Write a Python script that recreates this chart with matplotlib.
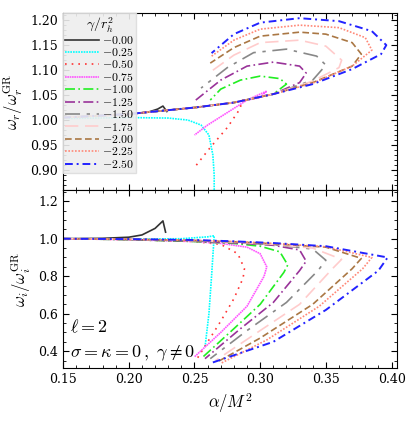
import matplotlib.pyplot as plt
from matplotlib.ticker import MultipleLocator

plt.rcParams['mathtext.fontset'] = 'cm'
plt.rcParams['font.family'] = 'serif'
plt.rcParams['font.serif'] = ['DejaVu Serif']

gammas = ['-0.00', '-0.25', '-0.50', '-0.75', '-1.00', '-1.25', '-1.50', '-1.75', '-2.00', '-2.25', '-2.50']

# real part: (alpha, omega_r / omega_r^GR)
real_a = [
    [0.15, 0.18, 0.20, 0.215, 0.222, 0.226, 0.229],
    [0.15, 0.20, 0.23, 0.245, 0.255, 0.261, 0.264, 0.265, 0.265],
    [0.15, 0.20, 0.25, 0.28, 0.287, 0.284, 0.275, 0.262, 0.25],
    [0.15, 0.20, 0.25, 0.28, 0.30, 0.305, 0.29, 0.275, 0.26, 0.25],
    [0.15, 0.20, 0.25, 0.28, 0.31, 0.32, 0.315, 0.30, 0.285, 0.27, 0.262],
    [0.15, 0.20, 0.25, 0.28, 0.31, 0.33, 0.335, 0.33, 0.31, 0.29, 0.27, 0.251],
    [0.15, 0.20, 0.25, 0.28, 0.31, 0.34, 0.35, 0.343, 0.32, 0.295, 0.275, 0.255],
    [0.15, 0.20, 0.25, 0.28, 0.31, 0.34, 0.36, 0.362, 0.35, 0.33, 0.30, 0.28, 0.262],
    [0.15, 0.20, 0.25, 0.28, 0.31, 0.34, 0.37, 0.377, 0.37, 0.35, 0.33, 0.30, 0.28, 0.262],
    [0.15, 0.20, 0.25, 0.28, 0.31, 0.34, 0.37, 0.385, 0.38, 0.36, 0.33, 0.30, 0.28, 0.262],
    [0.15, 0.20, 0.25, 0.28, 0.31, 0.34, 0.37, 0.392, 0.396, 0.385, 0.36, 0.33, 0.30, 0.28, 0.263],
]
real_w = [
    [1.005, 1.009, 1.012, 1.016, 1.022, 1.028, 1.017],
    [1.003, 1.005, 1.004, 1.000, 0.990, 0.970, 0.930, 0.890, 0.860],
    [1.005, 1.012, 1.025, 1.035, 1.040, 1.020, 0.985, 0.945, 0.905],
    [1.005, 1.012, 1.025, 1.035, 1.045, 1.058, 1.040, 1.015, 0.990, 0.970],
    [1.005, 1.012, 1.025, 1.035, 1.052, 1.072, 1.083, 1.088, 1.080, 1.062, 1.040],
    [1.005, 1.012, 1.025, 1.035, 1.052, 1.075, 1.094, 1.108, 1.116, 1.108, 1.080, 1.040],
    [1.005, 1.012, 1.025, 1.035, 1.052, 1.080, 1.110, 1.128, 1.142, 1.135, 1.105, 1.064],
    [1.005, 1.012, 1.025, 1.035, 1.052, 1.078, 1.105, 1.120, 1.148, 1.160, 1.155, 1.130, 1.096],
    [1.005, 1.012, 1.025, 1.035, 1.052, 1.075, 1.108, 1.132, 1.155, 1.172, 1.176, 1.168, 1.145, 1.114],
    [1.005, 1.012, 1.025, 1.035, 1.052, 1.074, 1.108, 1.140, 1.165, 1.185, 1.190, 1.182, 1.160, 1.126],
    [1.005, 1.012, 1.025, 1.035, 1.052, 1.072, 1.102, 1.132, 1.150, 1.178, 1.198, 1.204, 1.195, 1.172, 1.134],
]

# imaginary part: (alpha, omega_i / omega_i^GR)
imag_a = [
    [0.15, 0.18, 0.20, 0.21, 0.22, 0.226, 0.228],
    [0.15, 0.20, 0.24, 0.26, 0.265, 0.263, 0.261, 0.258],
    [0.15, 0.20, 0.25, 0.27, 0.283, 0.288, 0.287, 0.28, 0.27, 0.252],
    [0.15, 0.20, 0.25, 0.27, 0.29, 0.30, 0.305, 0.303, 0.29, 0.27, 0.25],
    [0.15, 0.20, 0.25, 0.28, 0.30, 0.315, 0.321, 0.318, 0.30, 0.28, 0.255],
    [0.15, 0.20, 0.25, 0.28, 0.31, 0.33, 0.335, 0.33, 0.31, 0.285, 0.258],
    [0.15, 0.20, 0.25, 0.28, 0.31, 0.34, 0.35, 0.344, 0.32, 0.29, 0.262],
    [0.15, 0.20, 0.25, 0.28, 0.31, 0.34, 0.362, 0.355, 0.33, 0.30, 0.266],
    [0.15, 0.20, 0.25, 0.28, 0.31, 0.35, 0.377, 0.37, 0.34, 0.30, 0.268],
    [0.15, 0.20, 0.25, 0.28, 0.31, 0.35, 0.385, 0.378, 0.345, 0.305, 0.27],
    [0.15, 0.20, 0.25, 0.28, 0.31, 0.35, 0.397, 0.39, 0.35, 0.31, 0.264],
]
imag_w = [
    [1.000, 1.002, 1.008, 1.020, 1.055, 1.095, 1.035],
    [1.000, 0.998, 1.000, 1.010, 1.016, 0.800, 0.600, 0.420],
    [1.000, 0.995, 0.985, 0.970, 0.920, 0.840, 0.790, 0.680, 0.560, 0.360],
    [1.000, 0.995, 0.985, 0.975, 0.955, 0.920, 0.850, 0.800, 0.640, 0.500, 0.370],
    [1.000, 0.995, 0.985, 0.975, 0.960, 0.930, 0.860, 0.820, 0.650, 0.520, 0.360],
    [1.000, 0.996, 0.987, 0.978, 0.965, 0.940, 0.880, 0.830, 0.660, 0.520, 0.360],
    [1.000, 0.996, 0.988, 0.980, 0.968, 0.945, 0.885, 0.830, 0.660, 0.510, 0.360],
    [1.000, 0.997, 0.990, 0.982, 0.970, 0.950, 0.890, 0.840, 0.650, 0.510, 0.350],
    [1.000, 0.997, 0.991, 0.984, 0.973, 0.955, 0.895, 0.840, 0.650, 0.470, 0.345],
    [1.000, 0.997, 0.992, 0.985, 0.975, 0.957, 0.900, 0.840, 0.640, 0.460, 0.335],
    [1.000, 0.998, 0.993, 0.986, 0.977, 0.960, 0.900, 0.830, 0.620, 0.450, 0.340],
]

colors = ['#333333', '#00ffff', '#ff3333', '#ff55ff', '#22ee22', '#993399',
          '#888888', '#ffcccc', '#aa7744', '#ff8877', '#2222ff']
styles = ['-', (0, (1, 0.6)), (0, (1, 3)), (0, (1, 0.4)), (0, (6, 2, 1, 2)),
          (0, (6, 2, 1, 2)), (0, (9, 4, 2, 4)), (0, (8, 4)), (0, (4, 2)),
          (0, (1, 1)), (0, (4, 2, 1, 2))]
widths = [1.2, 1.2, 1.2, 1.2, 1.2, 1.2, 1.2, 1.2, 1.2, 1.2, 1.4]

fig = plt.figure(figsize=(4.07, 4.25), dpi=100)
ax1 = fig.add_axes([0.155, 0.553, 0.82, 0.416])
ax2 = fig.add_axes([0.155, 0.134, 0.82, 0.419])

for i, g in enumerate(gammas):
    ax1.plot(real_a[i], real_w[i], color=colors[i], ls=styles[i], lw=widths[i], label=r'$' + g + '$')
    ax2.plot(imag_a[i], imag_w[i], color=colors[i], ls=styles[i], lw=widths[i])

for ax in (ax1, ax2):
    ax.set_xlim(0.15, 0.404)
    ax.xaxis.set_major_locator(MultipleLocator(0.05))
    ax.xaxis.set_minor_locator(MultipleLocator(0.01))
    ax.tick_params(which='both', direction='in', top=True, right=True, labelsize=9)
    ax.tick_params(which='major', length=4)
    ax.tick_params(which='minor', length=2)

ax1.set_ylim(0.86, 1.214)
ax1.yaxis.set_major_locator(MultipleLocator(0.05))
ax1.yaxis.set_minor_locator(MultipleLocator(0.01))
ax1.tick_params(labelbottom=False)
ax1.set_ylabel(r'$\omega_r/\omega_r^{\rm GR}$', fontsize=12)

ax2.set_ylim(0.31, 1.26)
ax2.yaxis.set_major_locator(MultipleLocator(0.2))
ax2.yaxis.set_minor_locator(MultipleLocator(0.05))
ax2.set_ylabel(r'$\omega_i/\omega_i^{\rm GR}$', fontsize=12)
ax2.set_xlabel(r'$\alpha/M^2$', fontsize=12)

leg = ax1.legend(title=r'$\gamma/r_h^2$', loc='upper left', fontsize=8.5, title_fontsize=10,
                 handlelength=2.8, handletextpad=0.3, labelspacing=-0.05, borderpad=0.2,
                 fancybox=False, framealpha=0.9, borderaxespad=0.0)
leg.get_frame().set_facecolor('#eeeeee')
leg.get_frame().set_edgecolor('#dddddd')

ax2.text(0.02, 0.2, r'$\ell=2$', transform=ax2.transAxes, fontsize=13)
ax2.text(0.02, 0.06, r'$\sigma=\kappa=0\,,\ \gamma\neq0$', transform=ax2.transAxes, fontsize=13)

fig.savefig('out.png', dpi=100)
